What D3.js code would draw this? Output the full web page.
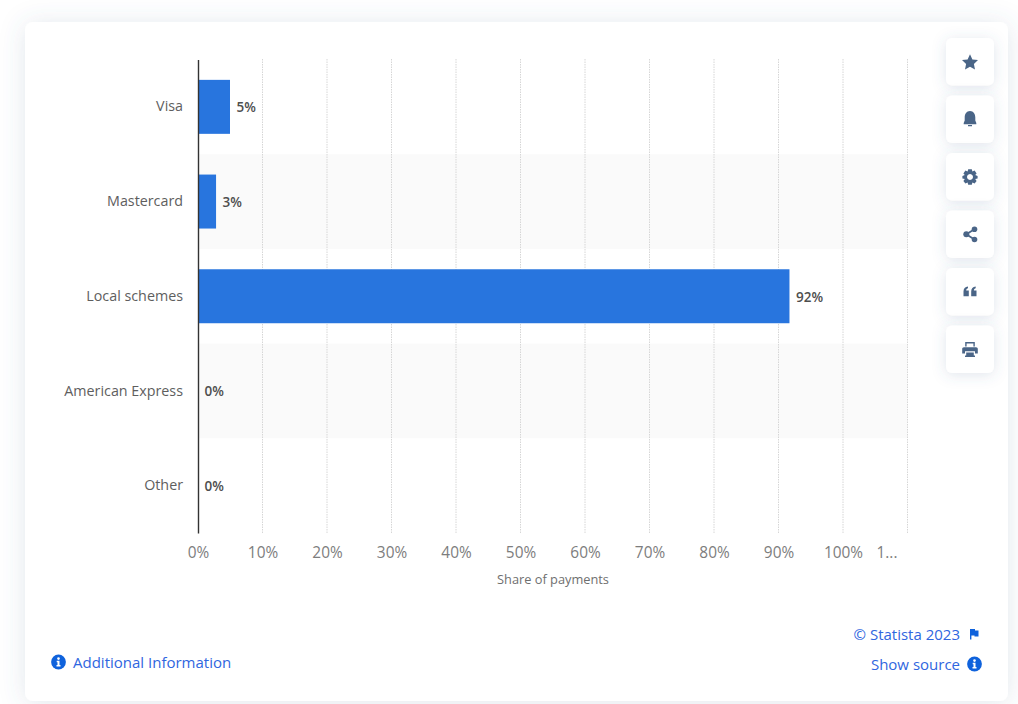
<!DOCTYPE html>
<html>
<head>
<meta charset="utf-8">
<script src="https://cdn.jsdelivr.net/npm/d3@7"></script>
<style>
    html, body { margin: 0; padding: 0; background: #fff; overflow: hidden; }
    #chart { display: block; }
    text { font-family: "Open Sans", sans-serif; }
</style>
</head>
<body>
<svg id="chart" width="1018" height="704"></svg>
<script>
const categories = ['Visa', 'Mastercard', 'Local schemes', 'American Express', 'Other'];
const shares = [4.96, 2.8, 91.7, 0, 0];
const valueLabels = ['5%', '3%', '92%', '0%', '0%'];
const ticks = [0, 10, 20, 30, 40, 50, 60, 70, 80, 90, 100, 110];
const tickLabels = ['0%', '10%', '20%', '30%', '40%', '50%', '60%', '70%', '80%', '90%', '100%', '1...'];

const svg = d3.select('#chart');
const defs = svg.append('defs');

// soft shadows for the card and the buttons
const cardShadow = defs.append('filter').attr('id', 'cardShadow')
    .attr('x', '-10%').attr('y', '-10%').attr('width', '120%').attr('height', '120%');
cardShadow.append('feDropShadow').attr('dx', 0).attr('dy', 2).attr('stdDeviation', 13)
    .attr('flood-color', '#4b6a8f').attr('flood-opacity', 0.16);
const btnShadow = defs.append('filter').attr('id', 'btnShadow')
    .attr('x', '-60%').attr('y', '-60%').attr('width', '220%').attr('height', '220%');
btnShadow.append('feDropShadow').attr('dx', 0).attr('dy', 2).attr('stdDeviation', 7)
    .attr('flood-color', '#4b6a8f').attr('flood-opacity', 0.17);

svg.append('rect').attr('x', 25).attr('y', 22).attr('width', 983).attr('height', 679)
    .attr('rx', 8).attr('fill', '#fff').attr('filter', 'url(#cardShadow)');

const x = d3.scaleLinear().domain([0, 110]).range([198, 907.5]);
const y = d3.scaleBand().domain(categories).range([59.5, 533]).paddingInner(0.43).paddingOuter(0.215);
const rowStep = y.step();

// alternating row stripes
svg.append('g').selectAll('rect')
    .data(categories.filter((d, i) => i % 2 === 1))
    .enter()
    .append('rect')
    .attr('x', x(0))
    .attr('y', d => y(d) - (rowStep - y.bandwidth()) / 2)
    .attr('width', x(110) - x(0))
    .attr('height', rowStep)
    .attr('fill', '#fafafa');

// dotted grid lines
svg.append('g').selectAll('line')
    .data(ticks.slice(1))
    .enter()
    .append('line')
    .attr('x1', d => x(d))
    .attr('x2', d => x(d))
    .attr('y1', 59)
    .attr('y2', 533)
    .attr('stroke', '#d6d6d6')
    .attr('stroke-width', 1)
    .attr('stroke-dasharray', '1.5 1');

// bars
svg.append('g').selectAll('rect')
    .data(categories)
    .enter()
    .append('rect')
    .attr('x', x(0))
    .attr('y', d => y(d))
    .attr('width', (d, i) => x(shares[i]) - x(0))
    .attr('height', y.bandwidth())
    .attr('fill', '#2875de');

// value labels
svg.append('g').selectAll('text')
    .data(categories)
    .enter()
    .append('text')
    .attr('x', (d, i) => x(shares[i]) + 6.5)
    .attr('y', d => y(d) + y.bandwidth() / 2 + 5.5)
    .attr('font-size', 13.5)
    .attr('font-weight', 600)
    .attr('fill', '#4e4e4e')
    .text((d, i) => valueLabels[i]);

// category axis
const yAxis = svg.append('g')
    .attr('transform', `translate(${x(0)},0)`)
    .call(d3.axisLeft(y).tickSize(0).tickPadding(15));
yAxis.select('.domain').attr('stroke', '#333').attr('stroke-width', 1.4);
yAxis.selectAll('text')
    .attr('font-size', 14.3)
    .attr('fill', '#5e5e5e')
    .style('font-family', '"Open Sans", sans-serif');

// value axis
const xAxis = svg.append('g')
    .attr('transform', 'translate(0,533)')
    .call(d3.axisBottom(x).tickValues(ticks).tickSize(0).tickPadding(14)
        .tickFormat((d, i) => tickLabels[i]));
xAxis.select('.domain').remove();
xAxis.selectAll('text')
    .attr('font-size', 15.4)
    .attr('fill', '#7d7d7d')
    .style('font-family', '"Open Sans", sans-serif');
// the last label is clipped to the room left beside the 100% tick
xAxis.selectAll('text').filter((d, i) => i === ticks.length - 1).attr('dx', -21);

svg.append('text')
    .attr('x', 553).attr('y', 584)
    .attr('text-anchor', 'middle')
    .attr('font-size', 12.8)
    .attr('fill', '#6f6f6f')
    .text('Share of payments');

// side buttons
const iconPaths = {
    star: 'M0,-7.8 L2.4,-2.6 L8,-1.9 L3.9,1.9 L5,7.5 L0,4.7 L-5,7.5 L-3.9,1.9 L-8,-1.9 L-2.4,-2.6 Z',
    bell: 'M0,-8.5 C3.6,-8.5 5.3,-5.5 5.3,-2 L5.3,1 L6.3,3.5 L6.3,4.7 L-6.3,4.7 L-6.3,3.5 L-5.3,1 L-5.3,-2 C-5.3,-5.5 -3.6,-8.5 0,-8.5 Z M-2,5.6 L2,5.6 L2,6.8 L-2,6.8 Z',
    gear: 'M-1.8,-7.8 L1.8,-7.8 L2.4,-5.6 L4.6,-6.4 L6.6,-3.6 L5.2,-1.9 L7.6,-1 L7.6,1.4 L5.2,2 L6.6,4 L4.6,6.6 L2.4,5.6 L1.8,7.8 L-1.8,7.8 L-2.4,5.6 L-4.6,6.6 L-6.6,4 L-5.2,2 L-7.6,1.4 L-7.6,-1 L-5.2,-1.9 L-6.6,-3.6 L-4.6,-6.4 L-2.4,-5.6 Z M0,-3 A3,3 0 1,0 0.01,-3 Z',
    quote: 'M-6.5,-0.5 C-6.5,-3.5 -5,-5.2 -2,-5.5 L-2,-3.7 C-3,-3.5 -3.7,-2.8 -3.8,-1.5 L-1.2,-1.5 L-1.2,4.2 L-6.5,4.2 Z M1.2,-0.5 C1.2,-3.5 2.7,-5.2 5.7,-5.5 L5.7,-3.7 C4.7,-3.5 4,-2.8 3.9,-1.5 L6.5,-1.5 L6.5,4.2 L1.2,4.2 Z',
    print: 'M-4.8,-7.5 L4.8,-7.5 L4.8,-3 L3.4,-3 L3.4,-6.1 L-3.4,-6.1 L-3.4,-3 L-4.8,-3 Z M-6,-2.2 L6,-2.2 C7.2,-2.2 7.8,-1.4 7.8,-0.4 L7.8,4 L5,4 L5,1.8 L-5,1.8 L-5,4 L-7.8,4 L-7.8,-0.4 C-7.8,-1.4 -7.2,-2.2 -6,-2.2 Z M-3.8,3 L3.8,3 L3.8,6 L-3.8,6 Z M-5,6 L5,6 L5,7.4 L-5,7.4 Z'
};
const buttons = [
    { key: 'star', cy: 62 },
    { key: 'bell', cy: 119.5 },
    { key: 'gear', cy: 177 },
    { key: 'share', cy: 234.5 },
    { key: 'quote', cy: 292 },
    { key: 'print', cy: 349.5 }
];
const btn = svg.append('g').selectAll('g')
    .data(buttons)
    .enter()
    .append('g')
    .attr('transform', d => `translate(970,${d.cy})`);
btn.append('rect')
    .attr('x', -24).attr('y', -24).attr('width', 48).attr('height', 47.5)
    .attr('rx', 6).attr('fill', '#fff').attr('filter', 'url(#btnShadow)');
btn.filter(d => d.key !== 'share').append('path')
    .attr('fill-rule', 'evenodd')
    .attr('d', d => iconPaths[d.key])
    .attr('fill', '#4a6587');
const share = btn.filter(d => d.key === 'share');
share.append('path').attr('d', 'M4.5,-5.2 L-3.7,-0.2 L4.5,5').attr('fill', 'none')
    .attr('stroke', '#4a6587').attr('stroke-width', 1.8);
share.selectAll('circle')
    .data([[4.5, -5.2, 2.8], [-3.7, -0.2, 3], [4.5, 5, 2.8]])
    .enter().append('circle')
    .attr('cx', d => d[0]).attr('cy', d => d[1]).attr('r', d => d[2])
    .attr('fill', '#4a6587');

// footer links
function infoIcon(cx, cy) {
    const g = svg.append('g').attr('transform', `translate(${cx},${cy})`);
    g.append('circle').attr('r', 7.4).attr('fill', '#0f62dc');
    g.append('path').attr('d', 'M-1.8,-1.2 L1,-1.2 L1,3 L2,3 L2,4.4 L-2,4.4 L-2,3 L-1,3 L-1,0.2 L-1.8,0.2 Z')
        .attr('fill', '#fff');
    g.append('circle').attr('cy', -3.4).attr('r', 1.3).attr('fill', '#fff');
}
const linkColor = '#2f66e0';
infoIcon(58.5, 662);
svg.append('text').attr('x', 73).attr('y', 668).attr('font-size', 15).attr('fill', linkColor)
    .text('Additional Information');
svg.append('text').attr('x', 960).attr('y', 640).attr('text-anchor', 'end').attr('font-size', 15).attr('fill', linkColor)
    .text('© Statista 2023');
svg.append('text').attr('x', 960).attr('y', 670).attr('text-anchor', 'end').attr('font-size', 15).attr('fill', linkColor)
    .text('Show source');
infoIcon(974.5, 664);
svg.append('path')
    .attr('transform', 'translate(974,634)')
    .attr('d', 'M-4,-5 L-4,5.5 L-2.6,5.5 L-2.6,1.4 L0.5,1.4 L0.5,2.4 L4.5,2.4 L4.5,-3.4 L1,-3.4 L1,-5 Z')
    .attr('fill', '#0f62dc');
</script>
</body>
</html>
